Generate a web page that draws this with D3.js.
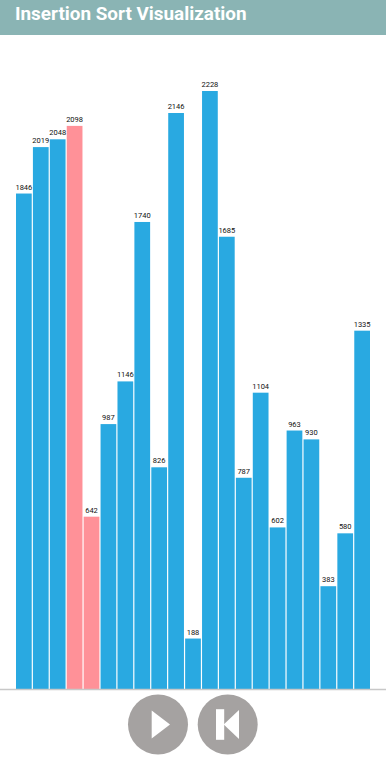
<!DOCTYPE html>
<html><head><meta charset="utf-8">
<script src="https://cdn.jsdelivr.net/npm/d3@7"></script>
<style>html,body{margin:0;padding:0;background:#fff;overflow:hidden}svg{display:block}</style>
</head><body><svg id="c" width="386" height="772"></svg>
<script>
const title = "Insertion Sort Visualization";
const values = [1846,2019,2048,2098,642,987,1146,1740,826,2146,188,2228,1685,787,1104,602,963,930,383,580,1335];
const highlighted = [3,4];
const indices = values.map((_,i)=>i);

const svg = d3.select("#c");
const x = d3.scaleBand().domain(indices).range([16,370]).paddingInner(0.07).paddingOuter(0);
const y = d3.scaleLinear().domain([0,2228]).range([689,91]);

svg.append("rect").attr("width",386).attr("height",35).attr("fill","#8ab4b4");
svg.append("text").text(title).attr("x",15).attr("y",15)
  .attr("dominant-baseline","middle")
  .attr("font-family","Roboto").attr("font-weight",700).attr("font-size",18.9).attr("fill","#fff");

svg.append("g").selectAll("rect").data(values).join("rect")
  .attr("x",(d,i)=>x(i)).attr("width",x.bandwidth())
  .attr("y",d=>y(d)).attr("height",d=>y(0)-y(d))
  .attr("fill",(d,i)=>highlighted.includes(i)?"#ff9198":"#29a9e1");

svg.append("g").selectAll("text").data(values).join("text")
  .text(d=>d)
  .attr("x",(d,i)=>x(i)+x.bandwidth()/2).attr("y",d=>y(d)-4)
  .attr("text-anchor","middle").attr("font-family","Roboto").attr("font-size",7.5).attr("fill","#111");

svg.append("line").attr("x1",0).attr("x2",386).attr("y1",689.5).attr("y2",689.5)
  .attr("stroke","#c8c8c8").attr("stroke-width",1.5);

const g1 = svg.append("g").attr("transform","translate(158,724.5)");
g1.append("circle").attr("r",30).attr("fill","#a5a2a1");
g1.append("path").attr("d","M-6.3,-14L12,0L-6.3,14Z").attr("fill","#fff");
const g2 = svg.append("g").attr("transform","translate(227.7,724.5)");
g2.append("circle").attr("r",30).attr("fill","#a5a2a1");
g2.append("rect").attr("x",-11.7).attr("y",-15.3).attr("width",8.2).attr("height",30.6).attr("fill","#fff");
g2.append("path").attr("d","M11.3,-14.5L-4,0L11.3,14.5Z").attr("fill","#fff");
</script></body></html>
